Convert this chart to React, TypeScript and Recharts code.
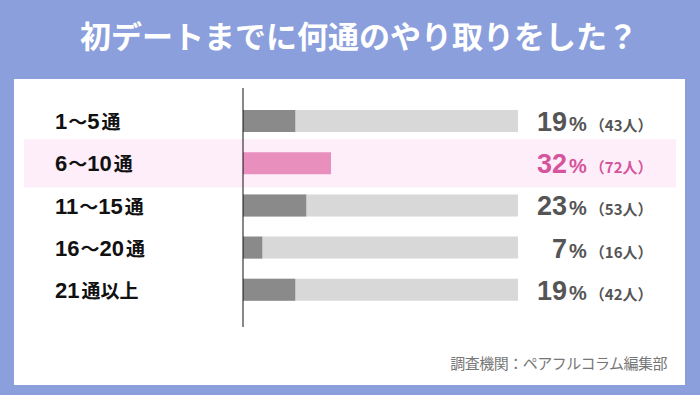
import React from 'react';
import { BarChart, Bar, XAxis, YAxis, Cell, LabelList, ReferenceArea } from 'recharts';

const categories = ['1～5通', '6～10通', '11～15通', '16～20通', '21通以上'];
const percents = [19, 32, 23, 7, 19];
const counts = [43, 72, 53, 16, 42];
const highlight = '6～10通';

const title = '初デートまでに何通のやり取りをした？';
const source = '調査機関：ペアフルコラム編集部';

const data = categories.map((name, i) => ({ name, pct: percents[i], count: counts[i] }));

const BG = '#8b9fdd';
const PINK = '#e88fbd';
const PINK_TEXT = '#d6549b';
const GRAY = '#8a8a8a';
const TRACK = '#d8d8d8';
const LATIN = "'Liberation Sans', Arial, 'Noto Sans CJK JP', sans-serif";
const JP = "'Noto Sans CJK JP', sans-serif";

// digits + wave dash big, kanji part smaller
const CategoryTick = (props: any) => {
  const { y, payload } = props;
  const parts = String(payload.value).match(/[\d]+|～|[^\d～]+/g) || [];
  return (
    <text x={55} y={y + 8} fill="#111" fontWeight="bold" fontFamily={LATIN}>
      {parts.map((p, i) =>
        /\d/.test(p) ? (
          <tspan key={i} fontSize={22}>{p}</tspan>
        ) : p === '～' ? (
          <tspan key={i} fontSize={19} fontFamily={JP} dx={1}>{p}</tspan>
        ) : (
          <tspan key={i} fontSize={19} fontFamily={JP} dx={2}>{p}</tspan>
        )
      )}
    </text>
  );
};

const ValueLabel = (props: any) => {
  const { y, height, index } = props;
  const d = data[index];
  const cy = y + height / 2;
  const color = d.name === highlight ? PINK_TEXT : '#555';
  return (
    <g fontFamily={LATIN} fontWeight="bold" fill={color}>
      <text x={567} y={cy + 10} textAnchor="end" fontSize={27}>
        {d.pct}
      </text>
      <text x={569} y={cy + 10} fontSize={20}>
        %
        <tspan dx={3} fontSize={15} fontFamily={JP}>（{d.count}人）</tspan>
      </text>
    </g>
  );
};

const Band = (props: any) => {
  const { y, height } = props;
  return <rect x={24} y={y - 3} width={652} height={height + 6} fill="#fdeefa" />;
};

export default function App() {
  return (
    <div style={{ position: 'fixed', left: 0, top: 0, width: 700, height: 395, background: BG, overflow: 'hidden' }}>
      <div style={{ position: 'absolute', left: 14, top: 79, width: 671, height: 306, background: '#fff' }} />
      <div
        style={{
          position: 'absolute', left: 80, top: 15, color: '#fff', fontFamily: JP, fontWeight: 'bold',
          fontSize: 31, lineHeight: '40px', whiteSpace: 'nowrap',
        }}
      >
        {title}
      </div>
      <div
        style={{
          position: 'absolute', right: 33, top: 352, color: '#777', fontFamily: JP,
          fontSize: 15, lineHeight: '22px', whiteSpace: 'nowrap', letterSpacing: -0.5,
        }}
      >
        {source}
      </div>
      <div style={{ position: 'absolute', left: 0, top: 0 }}>
        <BarChart
          width={700}
          height={395}
          data={data}
          layout="vertical"
          margin={{ top: 88, right: 182, left: 0, bottom: 68 }}
          barSize={22}
        >
          <XAxis type="number" domain={[0, 100]} hide />
          <YAxis
            type="category"
            dataKey="name"
            width={243}
            axisLine={{ stroke: '#111', strokeWidth: 1 }}
            tickLine={false}
            tick={<CategoryTick />}
            padding={{ top: 12, bottom: 16 }}
          />
          <ReferenceArea y1={highlight} y2={highlight} shape={<Band />} ifOverflow="visible" />
          <Bar dataKey="pct" background={{ fill: TRACK }} isAnimationActive={false}>
            {data.map((d) => (
              <Cell key={d.name} fill={d.name === highlight ? PINK : GRAY} />
            ))}
            <LabelList dataKey="pct" content={<ValueLabel />} />
          </Bar>
        </BarChart>
      </div>
    </div>
  );
}
